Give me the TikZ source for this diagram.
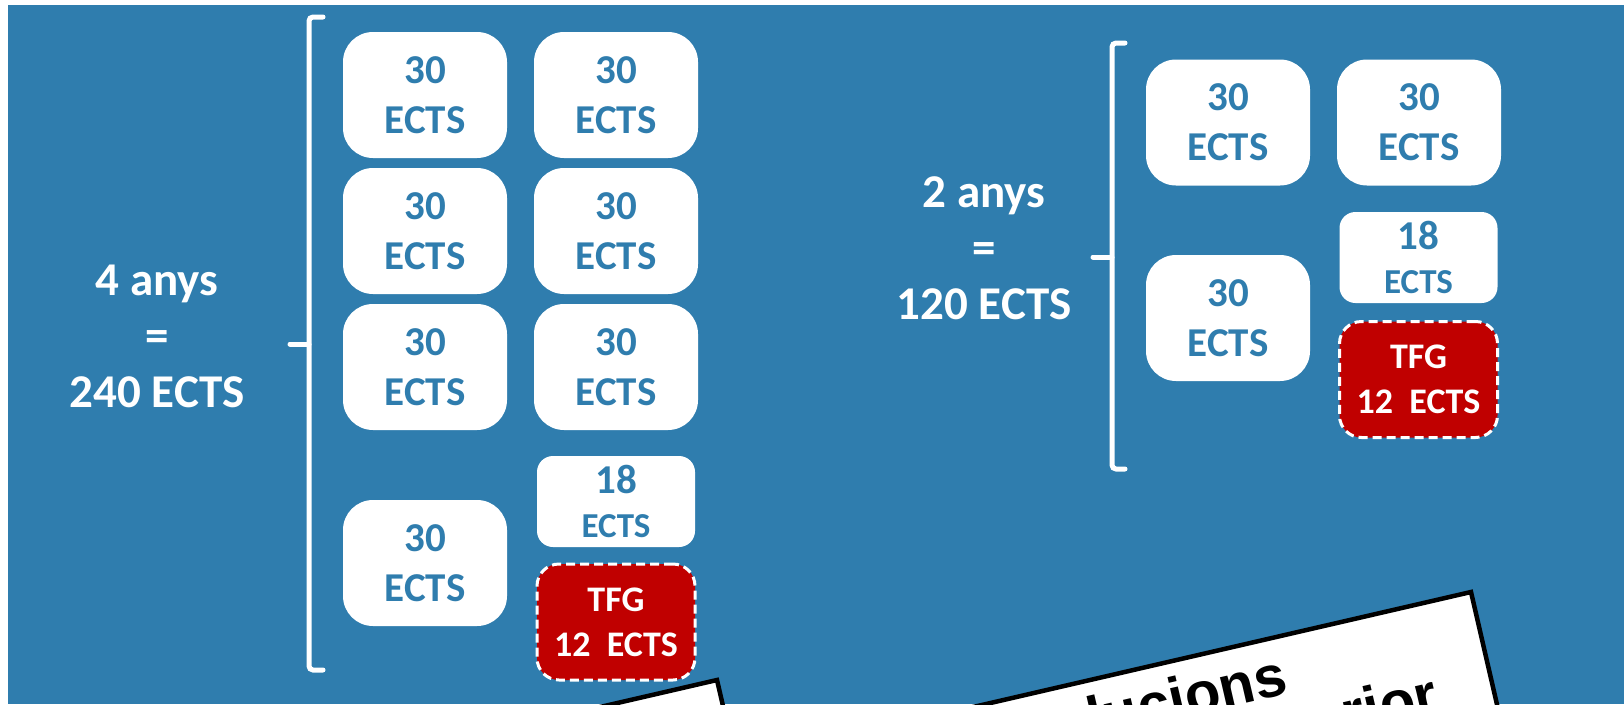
\documentclass[tikz,border=0pt]{standalone}
\usepackage{fontspec}
\setmainfont{Carlito}
\newfontfamily\cardfont{Liberation Sans}
\definecolor{bg}{RGB}{47,125,174}
\definecolor{tfgred}{RGB}{192,0,0}
\begin{document}
\begin{tikzpicture}[x=1pt,y=-1pt,
  box/.style={fill=white, rounded corners=30pt, minimum width=164pt, minimum height=126pt,
    inner sep=0pt, text=bg, align=center, font=\bfseries\fontsize{41}{50}\selectfont},
  smallbox/.style={fill=white, rounded corners=16pt, minimum width=158pt, minimum height=91pt,
    inner sep=0pt, text=bg, align=center, font=\bfseries\fontsize{41}{44}\selectfont},
  tfgbox/.style={fill=tfgred, draw=white, line width=3pt, dash pattern=on 9pt off 5pt,
    rounded corners=22pt, minimum width=158pt, minimum height=116pt, inner sep=0pt,
    text=white, align=center, font=\bfseries\fontsize{36}{45}\selectfont},
  lbl/.style={text=white, align=center, inner sep=0pt, font=\bfseries\fontsize{47}{56}\selectfont},
  brk/.style={draw=white, line width=5pt, rounded corners=4pt, line cap=round},
  card/.style={fill=white, draw=black, line width=4.5pt, line join=miter},
  cardtext/.style={inner sep=0pt, rotate=13, anchor=base east, font=\cardfont\bfseries\fontsize{58}{60}\selectfont}]
\useasboundingbox (0,0) rectangle (1624,704);
\fill[bg] (8,5) rectangle (1624,704);

% left group
\node[lbl] (lab1) at (157,336) {4 anys\\=\\240 ECTS};
\draw[brk] (323,17) -- (309,17) -- (309,670) -- (323,670);
\draw[brk] (290,344) -- (309,344);
\node[box] (a11) at (425,95) {30\\ECTS};
\node[box] (a12) at (616,95) {30\\ECTS};
\node[box] (a21) at (425,231) {30\\ECTS};
\node[box] (a22) at (616,231) {30\\ECTS};
\node[box] (a31) at (425,367) {30\\ECTS};
\node[box] (a32) at (616,367) {30\\ECTS};
\node[box] (a41) at (425,563) {30\\ECTS};
\node[smallbox] (a18) at (616,501.5) {18\\{\fontsize{35}{44}\selectfont ECTS}};
\node[tfgbox] (atfg) at (616,622) {TFG\\12\ \ ECTS};

% right group
\node[lbl] (lab2) at (984,248) {2 anys\\=\\120 ECTS};
\draw[brk] (1125,43) -- (1112,43) -- (1112,469) -- (1125,469);
\draw[brk] (1093,257) -- (1112,257);
\node[box] (b11) at (1228,122.5) {30\\ECTS};
\node[box] (b12) at (1419,122.5) {30\\ECTS};
\node[box] (b21) at (1228,318) {30\\ECTS};
\node[smallbox] (b18) at (1418.5,257.5) {18\\{\fontsize{35}{44}\selectfont ECTS}};
\node[tfgbox] (btfg) at (1418.5,379.5) {TFG\\12\ \ ECTS};

% cards at the bottom
\begin{scope}
\clip (8,5) rectangle (1624,704);
\draw[card] (717,680) -- (424.8,747.5) -- (447.3,844.9) -- (739.5,777.4) -- cycle;
\draw[card] (1471,592) -- (789.2,749.5) -- (834.2,944.3) -- (1516,786.8) -- cycle;
\node[cardtext] (c1) at (1290,693) {Solucions};
\node[cardtext] (c2) at (1441,712) {Superior};
\end{scope}
\end{tikzpicture}
\end{document}
